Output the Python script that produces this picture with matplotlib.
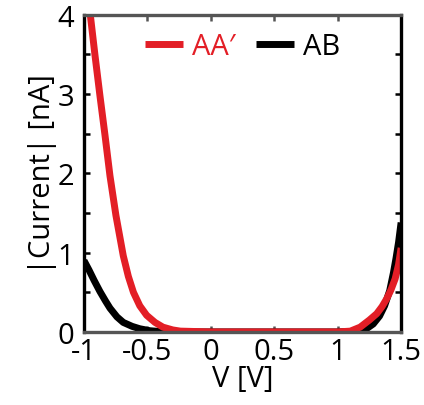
import matplotlib
matplotlib.use('Agg')
import matplotlib.pyplot as plt

plt.rcParams['font.family'] = ['Open Sans', 'DejaVu Sans']
plt.rcParams['axes.unicode_minus'] = False

# AA' curve (red)
v_aa = [-1.0, -0.95, -0.913, -0.874, -0.834, -0.795, -0.748, -0.69, -0.65, -0.61,
        -0.56, -0.506, -0.44, -0.377, -0.3, -0.24, 0.0, 0.5, 1.0, 1.1,
        1.177, 1.25, 1.308, 1.35, 1.387, 1.42, 1.453, 1.48, 1.5]
i_aa = [4.6, 4.0, 3.49, 2.98, 2.48, 1.97, 1.47, 0.96, 0.70, 0.50,
        0.33, 0.21, 0.12, 0.06, 0.025, 0.01, 0.0, 0.0, 0.0, 0.01,
        0.06, 0.15, 0.23, 0.32, 0.42, 0.53, 0.67, 0.85, 1.06]

# AB curve (black)
v_ab = [-1.0, -0.96, -0.92, -0.874, -0.83, -0.795, -0.74, -0.69, -0.62, -0.56,
        -0.48, -0.40, -0.3, 0.0, 0.5, 1.0, 1.2, 1.28, 1.33, 1.37,
        1.41, 1.44, 1.46, 1.48, 1.5]
i_ab = [0.90, 0.78, 0.65, 0.51, 0.39, 0.30, 0.19, 0.12, 0.07, 0.04,
        0.015, 0.005, 0.0, 0.0, 0.0, 0.0, 0.01, 0.10, 0.20, 0.33,
        0.52, 0.75, 0.93, 1.13, 1.38]

xticks = [-1, -0.5, 0, 0.5, 1, 1.5]
xticklabels = ['-1', '-0.5', '0', '0.5', '1', '1.5']
yticks = [0, 0.5, 1, 1.5, 2, 2.5, 3, 3.5, 4]
yticklabels = ['0', '', '1', '', '2', '', '3', '', '4']

red = '#e31e26'
fig = plt.figure(figsize=(4.24, 4.06), dpi=100)
ax = fig.add_axes([0.198, 0.18, 0.748, 0.781])

l_ab, = ax.plot(v_ab, i_ab, color='black', lw=5, solid_capstyle='butt')
l_aa, = ax.plot(v_aa, i_aa, color=red, lw=5, solid_capstyle='butt')

ax.set_xlim(-1, 1.5)
ax.set_ylim(0, 4)
ax.set_xticks(xticks)
ax.set_xticklabels(xticklabels)
ax.set_yticks(yticks)
ax.set_yticklabels(yticklabels)

ax.tick_params(axis='both', direction='in', labelsize=21, length=4, width=1.8)
ax.tick_params(axis='x', top=True, color='#555555', pad=4)
ax.tick_params(axis='y', right=True, pad=7)

for side in ['left', 'right']:
    ax.spines[side].set_linewidth(2.4)
    ax.spines[side].set_color('black')
for side in ['top', 'bottom']:
    ax.spines[side].set_linewidth(2.4)
    ax.spines[side].set_color('#555555')

ax.set_xlabel('V [V]', fontsize=21, labelpad=-2)
ax.set_ylabel('|Current| [nA]', fontsize=21, labelpad=0)

leg = ax.legend([l_aa, l_ab], ['AA\u2032', 'AB'], loc='upper center', ncol=2,
                frameon=False, fontsize=21, handlelength=1.3, handletextpad=0.3,
                columnspacing=0.7, borderaxespad=0.2, bbox_to_anchor=(0.5, 1.0))
leg.get_texts()[0].set_color(red)

fig.savefig('out.png', dpi=100)
